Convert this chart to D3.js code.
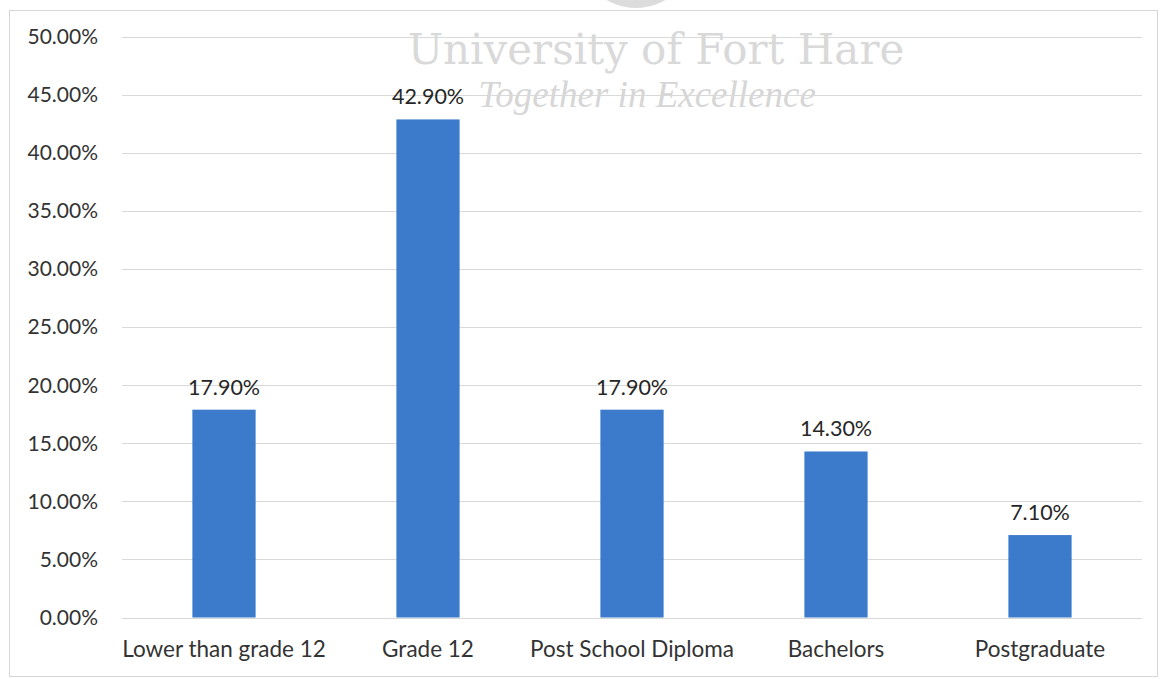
<!DOCTYPE html>
<html>
<head>
<meta charset="utf-8">
<script src="https://cdn.jsdelivr.net/npm/d3@7"></script>
<style>
  body { margin: 0; background: #fff; }
  svg text { font-family: Lato, "Open Sans", sans-serif; }
</style>
</head>
<body>
<script>
const categories = ['Lower than grade 12', 'Grade 12', 'Post School Diploma', 'Bachelors', 'Postgraduate'];
const values = [0.179, 0.429, 0.179, 0.143, 0.071];
const yTicks = [0, 0.05, 0.1, 0.15, 0.2, 0.25, 0.3, 0.35, 0.4, 0.45, 0.5];

const width = 1162;
const height = 679;
const margin = { top: 37, right: 20, bottom: 61, left: 122 };

const svg = d3.select('body').append('svg')
  .attr('width', width)
  .attr('height', height);

// chart frame
svg.append('rect')
  .attr('x', 9.5).attr('y', 10.5)
  .attr('width', 1148).attr('height', 666)
  .attr('fill', '#fff')
  .attr('stroke', '#d6d6d6');

// watermark
svg.append('circle')
  .attr('cx', 636).attr('cy', -50).attr('r', 58)
  .attr('fill', '#dcdcdc');
svg.append('text')
  .attr('x', 656).attr('y', 64)
  .attr('text-anchor', 'middle')
  .style('font-family', '"DejaVu Serif", "Liberation Serif", serif')
  .style('font-size', '42px')
  .attr('fill', '#d9d9d9')
  .text('University of Fort Hare');
svg.append('text')
  .attr('x', 647).attr('y', 107)
  .attr('text-anchor', 'middle')
  .style('font-family', '"Liberation Serif", "DejaVu Serif", serif')
  .style('font-style', 'italic')
  .style('font-size', '37px')
  .attr('fill', '#d6d6d6')
  .text('Together in Excellence');

const x = d3.scaleBand()
  .domain(categories)
  .range([margin.left, width - margin.right])
  .paddingInner(0.69)
  .paddingOuter(0.345);

const y = d3.scaleLinear()
  .domain([0, 0.5])
  .range([height - margin.bottom - 0.5, margin.top]);

const fmt = d3.format('.2%');

// gridlines
svg.append('g')
  .selectAll('line')
  .data(yTicks)
  .join('line')
  .attr('x1', margin.left).attr('x2', width - margin.right)
  .attr('y1', (d) => Math.round(y(d)) + 0.5)
  .attr('y2', (d) => Math.round(y(d)) + 0.5)
  .attr('stroke', '#d9d9d9')
  .attr('stroke-width', 1);

// y axis labels
const yAxis = svg.append('g')
  .attr('transform', `translate(${margin.left - 24},0)`)
  .call(d3.axisLeft(y).tickValues(yTicks).tickFormat(fmt).tickSize(0).tickPadding(0));
yAxis.select('.domain').remove();
yAxis.selectAll('text')
  .style('font-size', '21px')
  .attr('fill', '#333');

// x axis labels
const xAxis = svg.append('g')
  .attr('transform', `translate(0,${height - margin.bottom})`)
  .call(d3.axisBottom(x).tickSize(0).tickPadding(23));
xAxis.select('.domain').remove();
xAxis.selectAll('text')
  .style('font-size', '22.5px')
  .attr('fill', '#333');

// bars
svg.append('g')
  .selectAll('rect')
  .data(values)
  .join('rect')
  .attr('x', (d, i) => x(categories[i]))
  .attr('y', (d) => y(d))
  .attr('width', x.bandwidth())
  .attr('height', (d) => y(0) - y(d))
  .attr('fill', '#3c7acb');

// data labels
svg.append('g')
  .selectAll('text')
  .data(values)
  .join('text')
  .attr('x', (d, i) => x(categories[i]) + x.bandwidth() / 2)
  .attr('y', (d) => y(d) - 15)
  .attr('text-anchor', 'middle')
  .style('font-size', '21.5px')
  .attr('fill', '#262626')
  .text((d) => fmt(d));
</script>
</body>
</html>
